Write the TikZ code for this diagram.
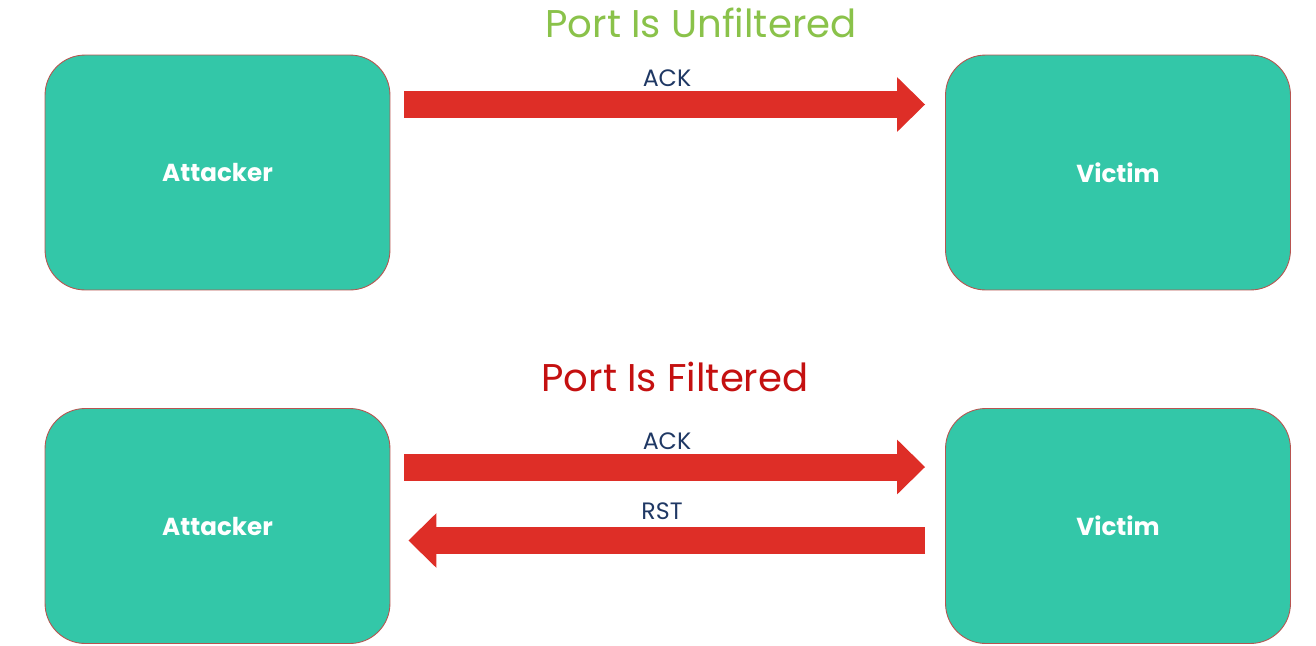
\documentclass[tikz,border=0pt]{standalone}
\usepackage{fontspec}
\setmainfont{Poppins}
\usetikzlibrary{arrows.meta,calc}
\definecolor{hostfill}{RGB}{51,199,168}
\definecolor{hostline}{RGB}{184,84,80}
\definecolor{flowred}{RGB}{222,46,39}
\definecolor{lblnavy}{RGB}{31,56,100}
\definecolor{okgreen}{RGB}{138,194,74}
\definecolor{badred}{RGB}{196,16,16}
\tikzset{
  host/.style={draw=hostline,line width=0.5pt,fill=hostfill,rounded corners=0.8cm,
    minimum width=6.9cm,minimum height=4.7cm,text=white,font=\fontsize{14}{17}\selectfont\bfseries},
  flow/.style={draw=flowred,line width=0.54cm,-{Triangle[width=1.06cm,length=0.56cm]}},
  flowlbl/.style={text=lblnavy,font=\fontsize{13.5}{16}\selectfont,anchor=base},
  title/.style={font=\fontsize{22}{26}\selectfont,anchor=base}
}
\newcommand{\host}[4]{\node[host] (#1) at (#2,#3) {#4};}
\newcommand{\flow}[4]{\draw[flow] ($(#1)+(#3)$) -- ($(#2)+(#4)$);}
\begin{document}
\begin{tikzpicture}[x=0.02cm,y=-0.02cm]
    \useasboundingbox (0,0) rectangle (1316,646);
    \node[title,text=okgreen] (t1) at (701,37) {Port Is Unfiltered};
    \node[title,text=badred] (t2) at (675,391) {Port Is Filtered};
    \host{A1}{217.5}{172.5}{Attacker}    \host{V1}{1118}{172.5}{Victim}
    \host{A2}{217.5}{526}{Attacker}    \host{V2}{1118}{526}{Victim}
    \flow{A1.east}{V1.west}{14,-68}{-20,-68}
    \node[flowlbl] (ack1) at (667,86) {ACK};
    \flow{A2.east}{V2.west}{14,-59}{-20,-59}
    \node[flowlbl] (ack2) at (667,449) {ACK};
    \flow{V2.west}{A2.east}{-20,14.5}{18,14.5}
    \node[flowlbl] (rst) at (662,519) {RST};
\end{tikzpicture}
\end{document}
